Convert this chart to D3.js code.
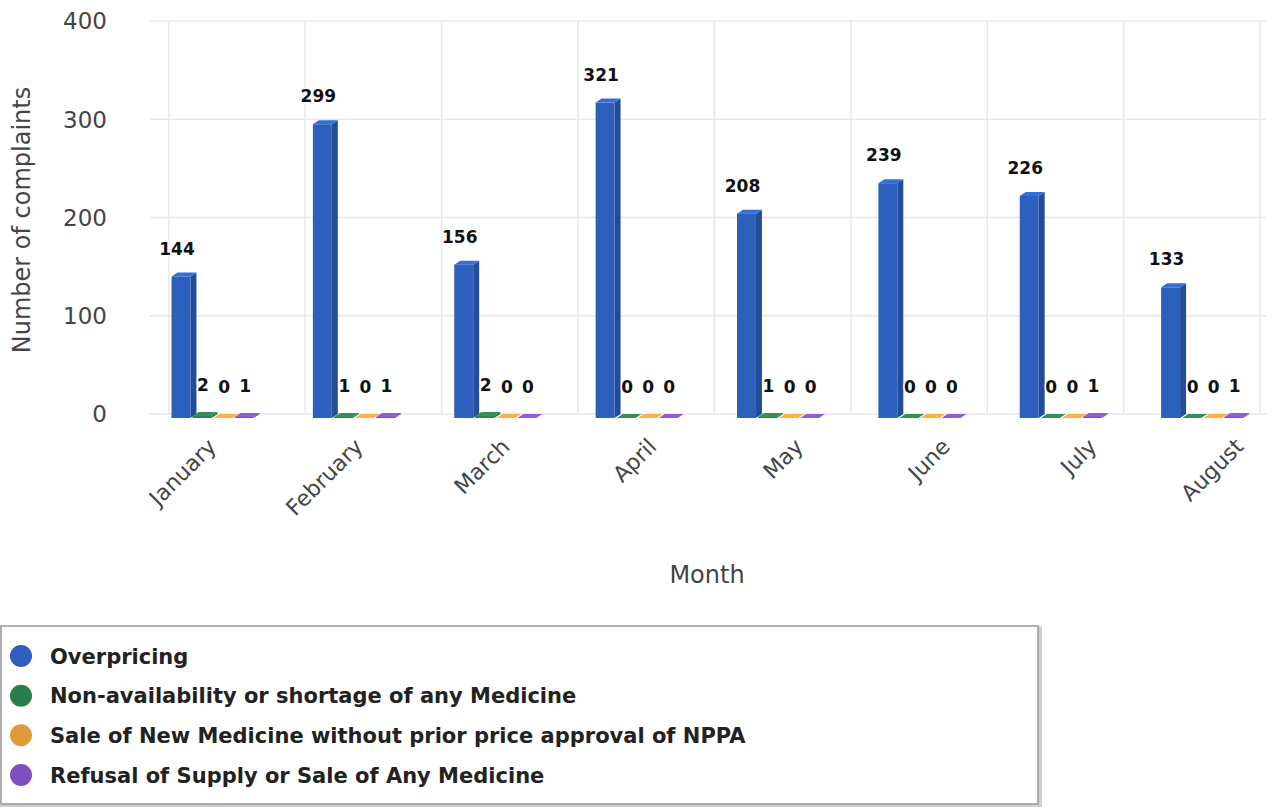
<!DOCTYPE html>
<html>
<head>
<meta charset="utf-8">
<script src="https://cdn.jsdelivr.net/npm/d3@7/dist/d3.min.js"></script>
<style>
  html, body { margin: 0; padding: 0; background: #fff; }
  svg { display: block; font-family: "DejaVu Sans", Verdana, sans-serif; }
</style>
</head>
<body>
<svg id="chart" width="1272" height="810"></svg>
<script>
// Monthly complaint counts by type
const months = ["January", "February", "March", "April", "May", "June", "July", "August"];
const seriesNames = [
  "Overpricing",
  "Non-availability or shortage of any Medicine",
  "Sale of New Medicine without prior price approval of NPPA",
  "Refusal of Supply or Sale of Any Medicine"
];
const overpricing     = [144, 299, 156, 321, 208, 239, 226, 133];
const nonAvailability = [2, 1, 2, 0, 1, 0, 0, 0];
const saleWithoutApproval = [0, 0, 0, 0, 0, 0, 0, 0];
const refusalOfSupply = [1, 1, 0, 0, 0, 0, 1, 1];
const yTicks = [0, 100, 200, 300, 400];
const seriesColors = ["#2d5fbd", "#2b7d4c", "#e09a3a", "#7d4fbf"];

const seriesValues = [overpricing, nonAvailability, saleWithoutApproval, refusalOfSupply];

const svg = d3.select("#chart");

const plotLeft = 144, plotRight = 1275, plotTop = 21, plotBottom = 414;

const x = d3.scaleBand().domain(months).range([plotLeft, plotRight]).padding(0);
const bw = x.bandwidth();
const xi = d3.scaleBand().domain(d3.range(seriesNames.length))
  .range([bw * 0.19, bw * 0.78]).paddingInner(0.1).paddingOuter(0.03);
const y = d3.scaleLinear().domain([0, 400]).range([plotBottom, plotTop]);

// Grid: horizontal lines
const grid = svg.append("g");
grid.selectAll("line.h").data(yTicks).join("line")
  .attr("x1", plotLeft + 6).attr("x2", 1266)
  .attr("y1", d => y(d)).attr("y2", d => y(d))
  .attr("stroke", "#e8e8e8").attr("stroke-width", 1.5);

// Grid: vertical lines at category boundaries, nudged toward the centre for depth
const boundaries = months.map(m => x(m)).concat([plotRight]);
const vanishX = 850;
grid.selectAll("line.v").data(boundaries).join("line")
  .attr("x1", d => d + (vanishX - d) * 0.035)
  .attr("x2", d => d + (vanishX - d) * 0.035)
  .attr("y1", plotTop).attr("y2", plotBottom)
  .attr("stroke", "#e8e8e8").attr("stroke-width", 1.5);

// Y axis
const yAxis = d3.axisLeft(y).tickValues(yTicks).tickSize(0).tickPadding(0);
const gy = svg.append("g").attr("transform", "translate(107,0)").call(yAxis);
gy.select(".domain").remove();
gy.selectAll("text").attr("font-size", 23).attr("fill", "#444")
  .attr("font-family", "DejaVu Sans, sans-serif").attr("dy", "0.34em");

svg.append("text")
  .attr("transform", "translate(30,220) rotate(-90)")
  .attr("text-anchor", "middle").attr("font-size", 24).attr("fill", "#444")
  .text("Number of complaints");

// X axis labels (front edge is spread slightly wider than the back wall)
const xAxis = d3.axisBottom(x).tickSize(0).tickPadding(0);
const gx = svg.append("g").attr("transform", `translate(0,${plotBottom + 20})`).call(xAxis);
gx.select(".domain").remove();
gx.selectAll("text")
  .attr("font-size", 22).attr("fill", "#444")
  .attr("font-family", "DejaVu Sans, sans-serif")
  .attr("text-anchor", "end")
  .attr("dy", "0.9em")
  .attr("transform", d => {
    const c = x(d) + bw / 2;
    const shift = (1.038 * c - 5.3) - c - 14;
    return `translate(${shift},0) rotate(-45)`;
  });

svg.append("text")
  .attr("x", 707).attr("y", 583)
  .attr("text-anchor", "middle").attr("font-size", 24).attr("fill", "#444")
  .text("Month");

// Bars with a shallow 3D look (front, top and right faces)
const depthX = 6, depthY = 4;
const bars = svg.append("g");
const labels = svg.append("g");

seriesValues.forEach((vals, s) => {
  const base = d3.color(seriesColors[s]);
  const side = base.darker(0.6).formatHex();
  const top = base.brighter(0.4).formatHex();
  vals.forEach((v, i) => {
    const x0 = x(months[i]) + xi(s);
    const x1 = x0 + xi.bandwidth();
    const yFront = y(v) + depthY;
    const yBase = plotBottom + depthY;
    // right side face
    bars.append("path")
      .attr("d", `M${x1},${yFront} L${x1 + depthX},${yFront - depthY} L${x1 + depthX},${yBase - depthY} L${x1},${yBase} Z`)
      .attr("fill", side);
    // top face
    bars.append("path")
      .attr("d", `M${x0},${yFront} L${x1},${yFront} L${x1 + depthX},${yFront - depthY} L${x0 + depthX},${yFront - depthY} Z`)
      .attr("fill", top);
    // front face
    bars.append("rect")
      .attr("x", x0).attr("y", yFront)
      .attr("width", xi.bandwidth()).attr("height", Math.max(0, yBase - yFront))
      .attr("fill", base.formatHex());

    labels.append("text")
      .attr("x", (x0 + x1) / 2 + (s === 0 ? -4 : 1))
      .attr("y", y(v) - (s === 0 ? 18 : 21))
      .attr("text-anchor", "middle")
      .attr("font-size", 17).attr("font-weight", "bold").attr("fill", "#111")
      .attr("stroke", "#fff").attr("stroke-width", 3).attr("paint-order", "stroke")
      .text(v);
  });
});

// Legend
const legend = svg.append("g");
legend.append("rect")
  .attr("x", 2).attr("y", 628).attr("width", 1038).attr("height", 177)
  .attr("fill", "none").attr("stroke", "#d0d0d0").attr("stroke-width", 4);
legend.append("rect")
  .attr("x", 1).attr("y", 626).attr("width", 1037).attr("height", 178)
  .attr("fill", "#fff").attr("stroke", "#999").attr("stroke-width", 1.5);

const legendY = d3.scalePoint().domain(seriesNames).range([656, 775]);
const items = legend.selectAll("g.item").data(seriesNames).join("g")
  .attr("transform", d => `translate(0,${legendY(d)})`);
items.append("circle").attr("cx", 21).attr("cy", 0).attr("r", 11)
  .attr("fill", (d, i) => seriesColors[i]);
items.append("text").attr("x", 50).attr("y", 0).attr("dy", "0.36em")
  .attr("font-size", 21).attr("font-weight", "bold").attr("fill", "#222")
  .text(d => d);
</script>
</body>
</html>
